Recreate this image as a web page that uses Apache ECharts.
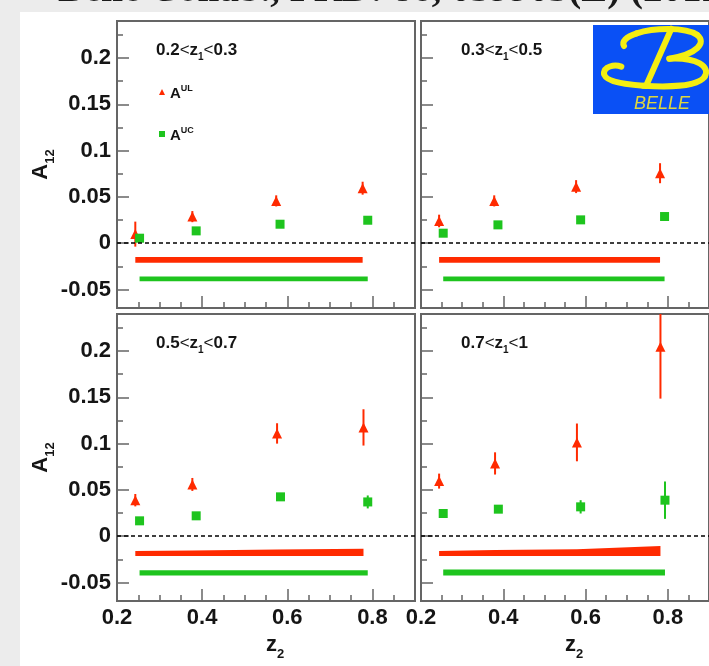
<!DOCTYPE html>
<html><head><meta charset="utf-8">
<script src="https://cdn.jsdelivr.net/npm/echarts@6.0.0/dist/echarts.min.js"></script>
<style>html,body{margin:0;padding:0;background:#fff}#c{width:709px;height:666px}</style>
</head><body><div id="c"></div>
<script>
// ---------------- data ----------------
const z1Ranges = [['0.2','0.3'],['0.3','0.5'],['0.5','0.7'],['0.7','1']];
const xMajorTicks = [0.2,0.4,0.6,0.8];
const xMinorTicks = [0.25,0.3,0.35,0.45,0.5,0.55,0.65,0.7,0.75,0.85];
const yMajorTicks = [-0.05,0,0.05,0.1,0.15,0.2];
const yMinorTicks = [-0.025,0.025,0.075,0.125,0.175,0.225];

// A^UL (red triangles), per panel
const ulX   = [[0.243,0.377,0.574,0.777],[0.244,0.378,0.577,0.781],[0.243,0.377,0.576,0.779],[0.244,0.380,0.579,0.782]];
const ulY   = [[0.0098,0.0287,0.0457,0.0594],[0.0240,0.0457,0.0611,0.0756],[0.0389,0.0559,0.1110,0.1175],[0.0595,0.0786,0.1013,0.2046]];
const ulErr = [[0.0135,0.0060,0.0060,0.0070],[0.0068,0.0060,0.0070,0.0108],[0.0067,0.0070,0.0110,0.0196],[0.0081,0.0120,0.0204,0.0560]];
// A^UC (green squares), per panel
const ucX   = [[0.253,0.386,0.583,0.789],[0.254,0.387,0.588,0.792],[0.253,0.386,0.584,0.789],[0.254,0.388,0.588,0.793]];
const ucY   = [[0.0054,0.0133,0.0205,0.0248],[0.0108,0.0198,0.0252,0.0288],[0.0166,0.0220,0.0425,0.0370],[0.0245,0.0292,0.0317,0.0389]];
const ucErr = [[0.0020,0.0020,0.0020,0.0020],[0.0020,0.0020,0.0020,0.0020],[0.0020,0.0020,0.0030,0.0070],[0.0020,0.0020,0.0072,0.0202]];
// systematic bands (lower / upper edge)
const ulSysLo = [[-0.021,-0.021,-0.021,-0.021],[-0.021,-0.021,-0.021,-0.021],[-0.0215,-0.0215,-0.0215,-0.0215],[-0.0215,-0.0215,-0.0215,-0.0215]];
const ulSysHi = [[-0.015,-0.015,-0.015,-0.015],[-0.015,-0.015,-0.015,-0.015],[-0.016,-0.0155,-0.0145,-0.0135],[-0.016,-0.015,-0.014,-0.0105]];
const ucSysLo = [[-0.041,-0.041,-0.041,-0.041],[-0.041,-0.041,-0.041,-0.041],[-0.0425,-0.0425,-0.0425,-0.0425],[-0.0425,-0.0425,-0.0425,-0.0425]];
const ucSysHi = [[-0.036,-0.036,-0.036,-0.036],[-0.036,-0.036,-0.036,-0.036],[-0.0368,-0.0368,-0.0368,-0.0368],[-0.036,-0.036,-0.036,-0.036]];

const X_MIN = 0.2, X_MAX = 0.9, Y_MIN = -0.07, Y_MAX = 0.24;

// ---------------- style ----------------
const FONT = '"Liberation Sans", Arial, Helvetica, sans-serif';
const RED = '#ff2a00', GREEN = '#1ec41e', GRAY = '#656565', INK = '#151515';
const GRID_POS = [[117,21],[421,21],[117,314],[421,314]];
const LABEL_POS = [[156,42],[461,42],[156,335],[461,335]];

const nameRich = {
  m: {fontSize:22, fontWeight:'bold', fontFamily:FONT, color:INK, lineHeight:22, verticalAlign:'top'},
  s: {fontSize:13, fontWeight:'bold', fontFamily:FONT, color:INK, lineHeight:13, verticalAlign:'top', padding:[14,0,0,0]}
};
const labelRich = {
  n: {fontSize:17, fontWeight:'bold', fontFamily:FONT, color:INK, lineHeight:17, verticalAlign:'top'},
  l: {fontSize:17, fontWeight:'normal', fontFamily:FONT, color:INK, lineHeight:17, verticalAlign:'top'},
  s: {fontSize:10, fontWeight:'bold', fontFamily:FONT, color:INK, lineHeight:10, verticalAlign:'top', padding:[10,0,0,0]}
};

function bandRender(color){
  return function(params, api){
    if (params.dataIndexInside !== 0) return null;
    const n = params.dataInsideLength;
    const top = [], bot = [];
    for (let i = 0; i < n; i++) {
      const x = api.value(0, i);
      top.push(api.coord([x, api.value(2, i)]));
      bot.unshift(api.coord([x, api.value(1, i)]));
    }
    return {type:'polygon', shape:{points: top.concat(bot)}, style:{fill: color}};
  };
}
function barRender(color){
  return function(params, api){
    const cs = params.coordSys;
    const a = api.coord([api.value(0), api.value(1)]);
    const b = api.coord([api.value(0), api.value(2)]);
    const y1 = Math.max(Math.min(a[1], b[1]), cs.y);
    const y2 = Math.min(Math.max(a[1], b[1]), cs.y + cs.height);
    return {type:'line', shape:{x1:a[0], y1:y1, x2:a[0], y2:y2}, style:{stroke: color, lineWidth: 2}};
  };
}

const grid = [], xAxis = [], yAxis = [], series = [], title = [];
for (let g = 0; g < 4; g++) {
  const isBottom = g >= 2, isLeft = g % 2 === 0;
  grid.push({left: GRID_POS[g][0], top: GRID_POS[g][1], width: 298, height: 287,
             show: true, borderColor: GRAY, borderWidth: 2, backgroundColor: 'transparent'});
  xAxis.push({
    type:'value', gridIndex:g, min:X_MIN, max:X_MAX, position:'bottom',
    axisLine:{show:true, onZero:false, lineStyle:{color:GRAY, width:2}},
    axisTick:{show:true, inside:true, length:12, customValues:xMajorTicks, lineStyle:{color:GRAY, width:1.5}},
    axisLabel:{show:isBottom, customValues:xMajorTicks, margin:6, color:INK, fontSize:22, fontWeight:'bold', fontFamily:FONT},
    splitLine:{show:false},
    name: isBottom ? '{m|z}{s|2}' : '', nameLocation:'middle', nameGap:33,
    nameTextStyle:{rich: nameRich, padding:[0,0,0,18]}
  });
  xAxis.push({
    type:'value', gridIndex:g, min:X_MIN, max:X_MAX, position:'bottom',
    axisLine:{show:false, onZero:false},
    axisTick:{show:true, inside:true, length:6, customValues:xMinorTicks, lineStyle:{color:GRAY, width:1.5}},
    axisLabel:{show:false}, splitLine:{show:false}
  });
  yAxis.push({
    type:'value', gridIndex:g, min:Y_MIN, max:Y_MAX, position:'left',
    axisLine:{show:true, onZero:false, lineStyle:{color:GRAY, width:2}},
    axisTick:{show:true, inside:true, length:12, customValues:yMajorTicks, lineStyle:{color:GRAY, width:1.5}},
    axisLabel:{show:isLeft, customValues:yMajorTicks, margin:6, color:INK, fontSize:22, fontWeight:'bold', fontFamily:FONT},
    splitLine:{show:false},
    name: isLeft ? '{m|A}{s|12}' : '', nameLocation:'middle', nameGap:61, nameRotate:90,
    nameTextStyle:{rich: nameRich}
  });
  yAxis.push({
    type:'value', gridIndex:g, min:Y_MIN, max:Y_MAX, position:'left',
    axisLine:{show:false, onZero:false},
    axisTick:{show:true, inside:true, length:6, customValues:yMinorTicks, lineStyle:{color:GRAY, width:1.5}},
    axisLabel:{show:false}, splitLine:{show:false}
  });
  const xi = 2*g, yi = 2*g;
  series.push({type:'custom', xAxisIndex:xi, yAxisIndex:yi, renderItem: bandRender(RED),
    encode:{x:0, y:[1,2]}, data: ulX[g].map((x,i)=>[x, ulSysLo[g][i], ulSysHi[g][i]]), silent:true, z:1});
  series.push({type:'custom', xAxisIndex:xi, yAxisIndex:yi, renderItem: bandRender(GREEN),
    encode:{x:0, y:[1,2]}, data: ucX[g].map((x,i)=>[x, ucSysLo[g][i], ucSysHi[g][i]]), silent:true, z:1});
  series.push({type:'custom', xAxisIndex:xi, yAxisIndex:yi, renderItem: barRender(RED),
    encode:{x:0, y:[1,2]}, data: ulX[g].map((x,i)=>[x, ulY[g][i]-ulErr[g][i], ulY[g][i]+ulErr[g][i]]), silent:true, z:2});
  series.push({type:'custom', xAxisIndex:xi, yAxisIndex:yi, renderItem: barRender(GREEN),
    encode:{x:0, y:[1,2]}, data: ucX[g].map((x,i)=>[x, ucY[g][i]-ucErr[g][i], ucY[g][i]+ucErr[g][i]]), silent:true, z:2});
  series.push({type:'scatter', name:'UL', xAxisIndex:xi, yAxisIndex:yi, symbol:'triangle', symbolSize:10,
    itemStyle:{color:RED, opacity:1}, data: ulX[g].map((x,i)=>[x, ulY[g][i]]), z:3, silent:true,
    markLine:{silent:true, symbol:['none','none'], label:{show:false}, animation:false,
      lineStyle:{color:'#000', type:[4,3], width:1.5}, data:[{yAxis:0}]}});
  series.push({type:'scatter', name:'UC', xAxisIndex:xi, yAxisIndex:yi, symbol:'rect', symbolSize:9,
    itemStyle:{color:GREEN, opacity:1}, data: ucX[g].map((x,i)=>[x, ucY[g][i]]), z:3, silent:true});
  title.push({text: '{n|' + z1Ranges[g][0] + '}{l|<}{n|z}{s|1}{l|<}{n|' + z1Ranges[g][1] + '}',
    left: LABEL_POS[g][0], top: LABEL_POS[g][1], padding:0, textStyle:{rich: labelRich}});
}

const legendRich = {
  a: {fontSize:15, fontWeight:'bold', fontFamily:FONT, color:INK, lineHeight:16, verticalAlign:'top', padding:[2,0,0,0]},
  p: {fontSize:9, fontWeight:'bold', fontFamily:FONT, color:INK, lineHeight:9, verticalAlign:'top'}
};

// Belle logo strokes (in 3x logo-local units)
const LOGO_STROKE = {fill:null, stroke:'#f4ee12', lineWidth:18, lineCap:'round'};
const bCurves = [
  [102,78, 94,66, 108,50, 140,40],
  [140,40, 190,24, 285,20, 322,45],
  [322,45, 350,68, 322,102, 238,116],
  [238,116, 322,112, 362,140, 344,170],
  [344,170, 322,200, 232,202, 160,197],
  [160,197, 88,193, 42,182, 42,160],
  [42,160, 42,140, 72,132, 94,140]
];
const logoChildren = bCurves.map(c => ({type:'bezierCurve', silent:true,
  shape:{x1:c[0], y1:c[1], cpx1:c[2], cpy1:c[3], cpx2:c[4], cpy2:c[5], x2:c[6], y2:c[7]}, style:LOGO_STROKE}));
logoChildren.push({type:'line', silent:true, shape:{x1:244, y1:26, x2:168, y2:198}, style:LOGO_STROKE});

const option = {
  animation:false,
  backgroundColor:'#ffffff',
  grid, xAxis, yAxis, series, title,
  legend:{
    data:[{name:'UL', icon:'triangle'},{name:'UC', icon:'rect'}],
    orient:'vertical', left:159, top:84, padding:0, itemWidth:6, itemHeight:6, itemGap:25,
    selectedMode:false,
    formatter: n => n === 'UL' ? '{a|A}{p|UL}' : '{a|A}{p|UC}',
    textStyle:{rich: legendRich}
  },
  graphic:[
    {type:'rect', silent:true, shape:{x:0, y:0, width:20, height:666}, style:{fill:'#ececec'}},
    {type:'rect', silent:true, shape:{x:0, y:0, width:709, height:12}, style:{fill:'#ececec'}},
    {type:'text', silent:true, x:58, y:-9, style:{text:'Belle Collab., PRD: 86, 039905(E) (2012)',
      fontSize:39, fontWeight:'bold', fontFamily:'"Liberation Serif", "Times New Roman", serif', fill:'#1a1a1a', verticalAlign:'middle'}},
    {type:'rect', silent:true, shape:{x:593, y:25, width:120, height:89}, style:{fill:'#0a50f5'}},
    {type:'group', silent:true, x:590, y:20, scaleX:1/3, scaleY:1/3, children: logoChildren},
    {type:'text', silent:true, x:662, y:104, style:{text:'BELLE', fontSize:18, fontStyle:'italic', fontFamily:FONT,
      fill:'#ddd640', align:'center', verticalAlign:'middle'}}
  ]
};

const chart = echarts.init(document.getElementById('c'), null, {renderer:'canvas'});
chart.setOption(option);
</script></body></html>
